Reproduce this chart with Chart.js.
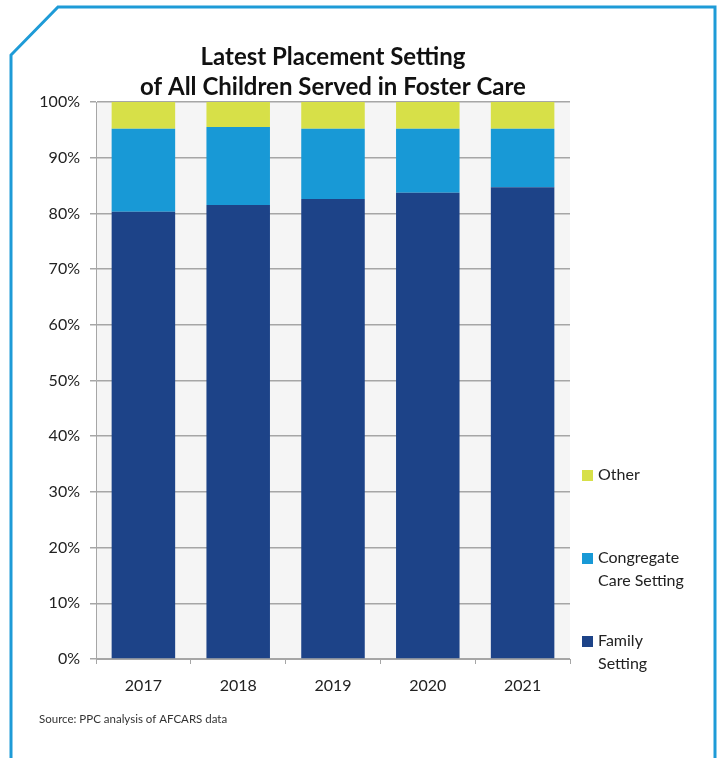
<!DOCTYPE html>
<html>
<head>
<meta charset="utf-8">
<script src="https://cdn.jsdelivr.net/npm/chart.js@4.4.1/dist/chart.umd.min.js"></script>
<style>
  html, body { margin: 0; padding: 0; background: #fff; }
  #wrap { position: relative; width: 721px; height: 758px; }
</style>
</head>
<body>
<div id="wrap"><canvas id="placement" width="721" height="758"></canvas></div>
<script>
// share of children by latest placement setting, per fiscal year (%)
const years = ['2017', '2018', '2019', '2020', '2021'];
const familySetting = [80.3, 81.5, 82.6, 83.7, 84.7];
const congregateCare = [14.9, 14.0, 12.6, 11.5, 10.5];
const otherSetting = [4.8, 4.5, 4.8, 4.8, 4.8];

const FONT = 'Lato, "Open Sans", sans-serif';
const INK = '#222';
const GRID = '#a6a6a6';

// gray plot area behind the bars
const plotBg = {
  id: 'plotBg',
  beforeDraw(chart) {
    const { ctx, chartArea: a } = chart;
    ctx.save();
    ctx.fillStyle = '#f5f5f5';
    ctx.fillRect(a.left, a.top, a.right - a.left, a.bottom - a.top);
    ctx.restore();
  },
};

// stacked legend on the right, top-down in reverse dataset order, plus frame and source line
const sideLegend = {
  id: 'sideLegend',
  afterDraw(chart) {
    const { ctx } = chart;
    const rows = [
      { ds: 2, lines: ['Other'], y: 475 },
      { ds: 1, lines: ['Congregate', 'Care Setting'], y: 558 },
      { ds: 0, lines: ['Family', 'Setting'], y: 641 },
    ];
    ctx.save();
    ctx.font = '16px ' + FONT;
    ctx.textBaseline = 'middle';
    ctx.textAlign = 'left';
    rows.forEach(r => {
      ctx.fillStyle = chart.data.datasets[r.ds].backgroundColor;
      ctx.fillRect(582, r.y - 5, 11, 11);
      ctx.fillStyle = INK;
      r.lines.forEach((t, i) => ctx.fillText(t, 598, r.y + i * 23));
    });

    ctx.font = '11.5px ' + FONT;
    ctx.fillStyle = '#333';
    ctx.fillText('Source: PPC analysis of AFCARS data', 39, 719);

    // frame with clipped top-left corner
    ctx.strokeStyle = '#1e9bd7';
    ctx.lineWidth = 3;
    ctx.beginPath();
    ctx.moveTo(11, 760);
    ctx.lineTo(11, 55);
    ctx.lineTo(58, 7);
    ctx.lineTo(715, 7);
    ctx.lineTo(715, 760);
    ctx.stroke();
    ctx.restore();
  },
};

new Chart(document.getElementById('placement'), {
  type: 'bar',
  data: {
    labels: years,
    datasets: [
      { label: 'Family Setting', data: familySetting, backgroundColor: '#1d4388' },
      { label: 'Congregate Care Setting', data: congregateCare, backgroundColor: '#1899d6' },
      { label: 'Other', data: otherSetting, backgroundColor: '#d7e048' },
    ],
  },
  options: {
    responsive: false,
    animation: false,
    layout: { padding: { top: 40, right: 151, bottom: 0, left: 0 } },
    datasets: { bar: { categoryPercentage: 1, barPercentage: 0.67 } },
    plugins: {
      legend: { display: false },
      tooltip: { enabled: false },
      title: {
        display: true,
        fullSize: false,
        text: ['Latest Placement Setting', 'of All Children Served in Foster Care'],
        color: '#111',
        font: { family: FONT, size: 24, weight: 'bold', lineHeight: 1.25 },
        padding: { top: 2, bottom: 0 },
      },
    },
    scales: {
      x: {
        stacked: true,
        afterFit(s) { s.height = 99; },
        grid: { offset: true, drawOnChartArea: false, drawTicks: true, tickLength: 5, color: GRID },
        border: { color: GRID, width: 1 },
        ticks: { color: INK, font: { family: FONT, size: 16 }, padding: 12 },
      },
      y: {
        stacked: true,
        min: 0,
        max: 100,
        afterFit(s) { s.width = 96; },
        grid: { color: GRID, tickLength: 6, lineWidth: 1.5 },
        border: { color: GRID, width: 1 },
        ticks: {
          stepSize: 10,
          color: INK,
          padding: 10,
          font: { family: FONT, size: 16 },
          callback: v => v + '%',
        },
      },
    },
  },
  plugins: [plotBg, sideLegend],
});
</script>
</body>
</html>
